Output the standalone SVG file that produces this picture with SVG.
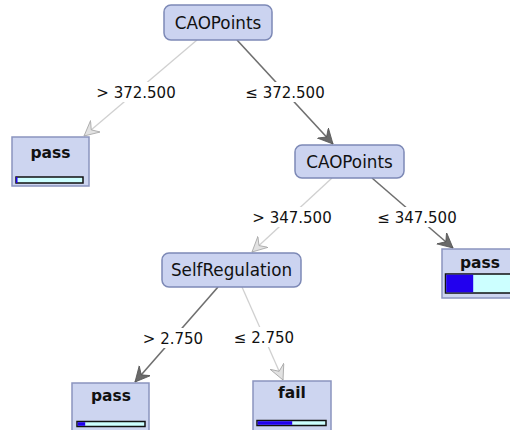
<svg xmlns="http://www.w3.org/2000/svg" width="510" height="430" viewBox="0 0 510 430">
<style>
  text { font-family: "DejaVu Sans", "Liberation Sans", sans-serif; fill: #111; }
  .inner rect { fill: #cbd3f0; stroke: #7d89b6; stroke-width: 1.5; }
  .inner text { font-size: 16.8px; text-anchor: middle; }
  .leaf > rect.box { fill: #cdd5f0; stroke: #8a94bf; stroke-width: 1.5; }
  .leaf text { font-size: 15.5px; font-weight: bold; text-anchor: middle; }
  .bar { fill: #ccffff; stroke: #111; stroke-width: 1.5; }
  .blue { fill: #2200ee; }
  .dark { stroke: #6f6f6f; stroke-width: 1.6; fill: none; marker-end: url(#arrDark); }
  .light { stroke: #d0d0d0; stroke-width: 1.3; fill: none; marker-end: url(#arrLight); }
  .lbl rect { fill: #ffffff; }
  .lbl text { font-size: 15px; text-anchor: middle; }
</style>
<defs>
  <marker id="arrDark" markerUnits="userSpaceOnUse" markerWidth="18" markerHeight="18" refX="15" refY="8" orient="auto">
    <path d="M15,8 L0,0.5 L5.5,8 L0,15.5 Z" fill="#6a6a6a" stroke="#555" stroke-width="0.8"/>
  </marker>
  <marker id="arrLight" markerUnits="userSpaceOnUse" markerWidth="18" markerHeight="18" refX="15" refY="8" orient="auto">
    <path d="M15,8 L0,0.5 L5.5,8 L0,15.5 Z" fill="#e2e2e2" stroke="#a5a5a5" stroke-width="0.8"/>
  </marker>
</defs>
<g id="connectors">
  <line class="light" x1="197" y1="40" x2="84" y2="136"/>
  <line class="dark" x1="237" y1="40" x2="333" y2="144"/>
  <line class="light" x1="332" y1="178" x2="252" y2="252"/>
  <line class="dark" x1="372" y1="178" x2="453" y2="248"/>
  <line class="dark" x1="218" y1="287" x2="135" y2="382"/>
  <line class="light" x1="242" y1="287" x2="283" y2="380"/>
  <g class="lbl">
    <rect x="94" y="82" width="84" height="20"/>
    <text x="136" y="97.5">&gt; 372.500</text>
    <rect x="243" y="82" width="84" height="20"/>
    <text x="285" y="97.5">≤ 372.500</text>
    <rect x="250" y="207" width="84" height="20"/>
    <text x="292" y="222.5">&gt; 347.500</text>
    <rect x="375" y="207" width="84" height="20"/>
    <text x="417" y="222.5">≤ 347.500</text>
    <rect x="140" y="328" width="66" height="20"/>
    <text x="173" y="343.5">&gt; 2.750</text>
    <rect x="231" y="327" width="66" height="20"/>
    <text x="264" y="342.5">≤ 2.750</text>
  </g>
</g>
<g id="node-root" class="inner">
  <rect x="164" y="5" width="108" height="35" rx="7"/>
  <text x="218" y="28.5">CAOPoints</text>
</g>
<g id="node-cao2" class="inner">
  <rect x="295" y="145" width="109" height="33" rx="7"/>
  <text x="349.5" y="167.5">CAOPoints</text>
</g>
<g id="node-selfreg" class="inner">
  <rect x="162" y="253" width="139" height="34" rx="7"/>
  <text x="231.5" y="276">SelfRegulation</text>
</g>
<g id="leaf-pass-1" class="leaf">
  <rect class="box" x="12" y="137" width="77" height="49"/>
  <text x="50.5" y="157.5">pass</text>
  <rect class="bar" x="16" y="177" width="67" height="6"/>
  <rect class="blue" x="16" y="177" width="1.5" height="6"/>
</g>
<g id="leaf-pass-2" class="leaf">
  <rect class="box" x="442" y="249" width="77" height="49"/>
  <text x="480" y="267.5">pass</text>
  <rect class="bar" x="445.5" y="274" width="70" height="19"/>
  <rect class="blue" x="446.2" y="274.7" width="27" height="17.6"/>
</g>
<g id="leaf-pass-3" class="leaf">
  <rect class="box" x="72" y="383" width="77" height="49"/>
  <text x="111" y="401">pass</text>
  <rect class="bar" x="77" y="421.5" width="68" height="5"/>
  <rect class="blue" x="77.7" y="422.2" width="7.5" height="3.6"/>
</g>
<g id="leaf-fail" class="leaf">
  <rect class="box" x="253" y="381" width="78" height="50"/>
  <text x="292" y="398">fail</text>
  <rect class="bar" x="257" y="420.5" width="69" height="5"/>
  <rect class="blue" x="257.7" y="421.2" width="34.5" height="3.6"/>
</g>
</svg>
